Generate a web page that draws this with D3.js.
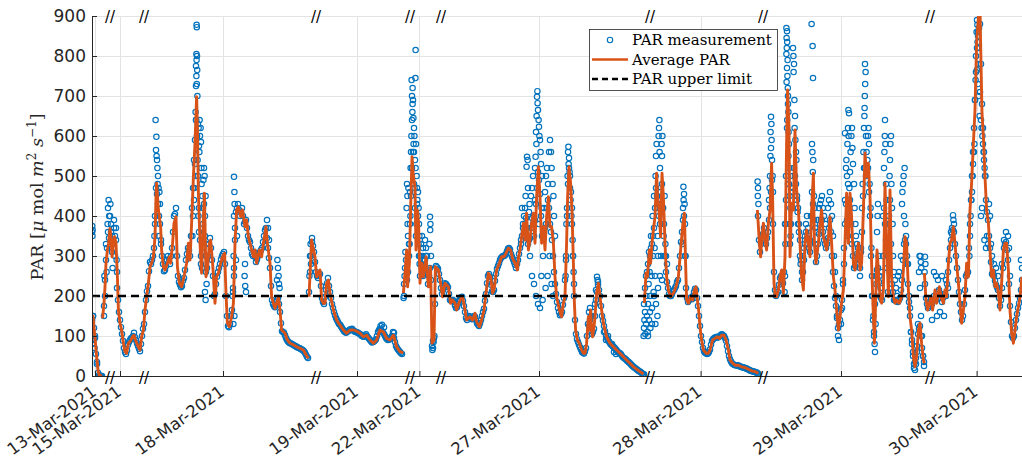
<!DOCTYPE html>
<html><head><meta charset="utf-8">
<script src="https://cdn.jsdelivr.net/npm/d3@7"></script>
<style>body{margin:0;background:#fff}svg{display:block}</style>
</head><body>
<svg id="c" width="1022" height="459"></svg>
<script>
// ---- DATA (x = sample index on the compressed time axis, y = PAR) ----
const xTickLabels = ["13-Mar-2021","15-Mar-2021","18-Mar-2021","19-Mar-2021","22-Mar-2021","27-Mar-2021","28-Mar-2021","29-Mar-2021","30-Mar-2021"];
const xTickPos = [1.5, 14, 65.5, 132.5, 163.7, 223.5, 304.3, 374.5, 442.3];
const breakPos = [9, 26, 112, 159, 174.5, 279, 335.5, 419];
const yTicks = [0,100,200,300,400,500,600,700,800,900];
const parLimit = 200;

// Average PAR, per segment: [index, value]
const avgA = [[0,130],[0.5,150],[1,120],[1.5,95],[2,65],[2.5,40],[3,15],[3.5,3],[5,0]];
const avgB = [[5.3,144],[6,182],[6.5,223],[7,282],[7.7,315],[8.3,332],[9,369],[9.5,348],[10,298],[10.7,332],[11.3,348],[12,332],[12.7,248],[13.2,165],[14,132],[14.8,115],[15.7,82],[16.5,61],[17.3,57],[18.2,82],[19,86],[20.3,98],[21,102],[22,86],[23.2,73],[24,65],[24.8,98],[25.7,115],[26.5,165],[27.3,198],[28.2,232],[29,273],[29.8,282],[30.7,298],[31.5,348],[32,448],[32.3,482],[33.2,415],[33.7,398],[34.3,373],[34.8,315],[35.7,273],[36.5,265],[37.7,282],[38.7,298],[39.3,282],[40.3,332],[41,382],[42,398],[42.7,273],[43.7,232],[44.8,223],[46,248],[47.3,282],[48.2,332],[49,290],[49.8,382],[50.7,498],[51.5,582],[52.3,698],[52.7,623],[53.2,457],[54,332],[54.8,257],[55.7,398],[56.2,457],[57,248],[57.7,265],[58.7,332],[59.3,340],[60.3,282],[61.5,182],[62.3,248],[63.2,257],[64.3,282],[65.3,298],[66.3,307],[67,207],[67.7,132],[68.7,123],[69.8,148],[70.7,182],[71.5,332],[72.3,415],[73.2,423],[74.3,398],[75.3,415],[76.5,373],[77.3,390],[78.2,348],[79,332],[80.7,298],[81.5,315],[82.3,282],[83.7,315],[84.8,298],[85.7,332],[87,373],[87.7,332],[89,282],[89.8,198],[90.7,182],[91.5,169],[92.3,182],[93.2,198],[94,165],[94.8,115],[96.5,107],[97.7,90],[99,82],[100.7,78],[102.3,73],[104,69],[105.7,65],[107,53],[108.2,44]];
const avgC = [[108.5,198],[109.8,340],[111.5,298],[112.3,248],[114,265],[114.8,190],[115.7,182],[116.5,182],[117.3,232],[118.2,240],[119,207],[120.7,165],[122.3,140],[124,127],[125.7,115],[127.3,107],[129,115],[130.7,115],[132.3,112],[134,107],[135.7,98],[137.3,102],[139,90],[140.7,82],[142.3,90],[144,115],[145.7,110],[147.3,94],[149,90],[150.7,102],[152.3,73],[154,61],[155.7,58]];
const avgD = [[155.7,207],[156.5,257],[157.3,315],[157.8,223],[158.7,282],[159.3,415],[160,548],[160.7,498],[161.5,473],[162,315],[162.7,415],[163.3,382],[164,232],[164.8,282],[165.7,248],[167,298],[168.2,223],[169.3,273],[170,82],[171,90],[171.7,273],[173.2,265],[174.3,232],[175.3,198],[176.5,232],[178.2,223],[179.3,182],[180.3,190],[181.5,182],[182.3,165],[184,190],[185.3,198],[186.5,165],[187.3,140],[189,148],[190.3,140],[191.5,157],[192.3,136],[193.7,123],[194.8,140],[196,165],[197,207],[198.2,257],[199.3,248],[200.3,207],[201,215],[202.3,265],[203.7,282],[204.8,298],[206,298],[207,307],[208.2,320],[209.3,315],[210.3,294],[211.5,282],[212.7,265],[213.3,298],[214,315],[214.8,348],[215.7,382],[216.5,340],[217.3,407],[218.2,315],[219,340],[219.8,382],[220.7,407],[221.5,332],[222.3,448],[223.2,523],[224,448],[224.8,332],[225.7,373],[226.5,315],[227.3,398],[228.2,448],[229,373],[229.8,373],[230.7,332],[231.5,248],[232.3,198],[233.7,165],[234.8,148],[235.7,182],[236.5,198],[237.3,332],[237.8,448],[238.5,523],[239.3,482],[240,415],[240.7,282],[241.2,182],[241.8,115],[242.7,90],[243.7,82],[244.8,65],[245.7,57],[246.5,57],[247.3,82],[248.2,148],[248.7,115],[249.3,165],[249.8,115],[250.3,98],[251,123],[251.5,148],[252.3,207],[253.2,232],[254,198],[254.8,165],[255.7,132],[257.3,98],[259,82],[260.7,73],[262.3,65],[264,57],[265.7,48],[267.3,40],[269,32],[270.7,23],[272.3,17],[274,11],[275.7,5]];
const avgE = [[276.2,182],[277,257],[277.7,248],[278.7,315],[279.3,282],[280,332],[280.7,365],[281.5,398],[282.3,507],[282.8,448],[283.5,415],[284.3,348],[285,507],[285.7,448],[286.5,332],[287.3,248],[288.2,215],[289.3,198],[290.7,207],[292,223],[293.2,248],[294.3,315],[295.3,373],[296.2,407],[296.8,282],[297.3,190],[298.2,182],[299.3,198],[300.3,190],[301.2,215],[302,223],[302.7,190],[303.3,165],[304,123],[304.8,90],[305.7,65],[307,57],[308.2,57],[309,65],[310.3,90],[311.5,94],[312.7,98],[313.7,94],[314.8,102],[316,102],[317,90],[318.2,65],[319,40],[320.3,32],[321.5,27],[323.2,27],[324.8,23],[326.5,21],[328.2,17],[329.8,13],[331.5,11],[333.2,7]];
const avgF = [[332.7,415],[333.7,332],[334.3,298],[335,348],[335.7,382],[336.5,340],[337.3,315],[338.2,382],[339,415],[339.8,532],[340.3,448],[341,232],[341.7,198],[342.3,198],[343.2,215],[344,248],[344.8,265],[345.7,207],[346.5,298],[347.3,582],[347.8,715],[348.5,623],[349,298],[349.8,432],[350.7,415],[351.5,615],[352.3,465],[353.2,415],[354,332],[354.8,248],[355.7,215],[356.5,332],[357.3,365],[358.2,332],[359,298],[359.8,415],[360.7,507],[361.2,332],[362,282],[363.2,332],[364,382],[364.8,415],[365.7,348],[366.5,332],[367.3,315],[368.2,348],[369,398],[369.8,332],[370.7,248],[371.5,215],[372.3,165],[373.2,115],[374,148],[374.8,182],[375.7,215],[376.5,332],[377.3,457],[378.2,332],[379,457],[379.8,398],[380.7,282],[381.5,265],[382.3,298],[383.2,332],[384,265],[384.8,282],[385.7,415],[386.5,557],[387.3,498],[388.2,532],[389,448],[389.8,282],[390.7,148],[391.2,82],[391.8,182],[392.5,315],[393.2,265],[394,198],[394.8,182],[395.7,215],[396.5,482],[397.3,332],[398.2,198],[399,465],[399.8,248],[400.7,198],[401.5,182],[402.3,190],[403.7,182],[404.8,198],[405.7,265],[406.5,348],[407.3,332],[408.2,215],[409,148],[409.8,115],[410.7,48],[411.5,23],[412.3,48],[413.2,115],[414,132],[414.8,82],[415.7,40],[416.2,32]];
const avgG = [[416.2,257],[417,190],[417.8,165],[418.7,182],[419.5,198],[420.3,165],[421.5,215],[422.3,182],[423.7,223],[424.5,198],[425.7,182],[426.5,215],[427.3,198],[428.2,282],[429,332],[429.8,340],[430.7,373],[431.5,332],[432.3,282],[433.2,232],[434,182],[434.8,132],[435.7,165],[436.5,198],[437.3,282],[438.2,248],[439,415],[439.8,482],[440.7,582],[441.5,665],[442.3,832],[443,882],[443.5,920],[444,930],[444.3,832],[445,657],[445.7,598],[446.5,498],[447.3,415],[448.2,382],[449,315],[449.8,248],[450.7,265],[451.5,223],[452.3,232],[453.2,207],[454,165],[454.8,232],[455.7,315],[456.5,332],[457.3,332],[458.2,265],[459,165],[459.8,107],[460.7,82],[461.5,115],[462.3,148],[463.2,173],[464,198],[465,248]];

// PAR measurements: regular samples per segment (first index + values, one per index step)
const measAStart = 0,   measA = [100,120,55,8,0,0];
const measBStart = 6,   measB = [175,290,360,400,310,370,340,190,140,105,70,55,78,90,95,108,90,75,62,100,130,190,225,285,290,320,470,430,380,300,262,275,300,280,320,400,420,250,228,225,245,290,320,300,420,540,640,500,340,270,430,260,300,345,290,200,230,260,280,300,310,200,125,130,165,270,410,430,400,420,380,390,350,335,305,310,285,300,310,320,350,370,320,270,190,175,178,195,160,112,108,95,86,82,80,77,74,71,69,66,62,53,45];
const measCStart = 109, measC = [260,335,310,260,245,255,195,180,215,245,210,180,160,145,135,128,120,112,108,112,116,118,112,110,108,105,100,98,104,96,90,84,86,92,110,118,112,105,95,90,92,100,95,75,66,60,55];
const measDStart = 156, measD = [230,290,260,380,520,480,350,400,250,270,255,300,230,270,75,95,275,268,240,205,225,230,222,190,188,185,170,180,192,198,175,145,145,148,142,150,140,128,132,150,168,205,250,248,212,215,255,275,290,298,300,305,318,316,298,285,270,290,320,350,360,395,330,345,395,350,430,510,455,350,360,380,440,380,340,260,205,170,152,160,195,290,480,500,420,200,105,85,72,60,56,70,130,140,105,118,190,228,200,150,125,100,90,82,76,72,66,60,57,50,45,41,36,32,26,22,18,14,11,7,4];
const measEStart = 276, measE = [180,250,280,300,330,370,470,430,380,480,380,260,220,200,205,215,225,240,300,360,400,220,185,195,192,210,215,175,125,85,62,57,56,66,88,94,97,96,100,104,100,88,62,42,32,28,27,27,24,22,21,19,17,14,12,11,9,6];
const measFStart = 333, measF = [400,310,340,370,330,360,420,490,260,200,210,245,240,260,500,680,330,420,520,480,420,340,240,290,360,330,310,460,390,285,330,380,390,340,320,345,390,300,225,175,120,140,190,280,430,350,440,330,270,290,320,270,360,520,500,520,400,200,100,250,270,200,190,420,340,210,440,230,190,188,185,195,240,330,330,230,150,80,30,45,105,125,70,35];
const measGStart = 417, measG = [195,170,185,180,200,190,210,205,185,205,200,260,320,355,360,300,240,180,140,180,250,260,380,500,620,760,860,880,680,560,440,390,320,255,250,228,215,175,220,320,335,290,175,100,100,140,170,195,240];
// second set of samples, half a step later
const measA2Start = 0.5,   measA2 = [150,95,30,2,0];
const measB2Start = 6.5,   measB2 = [240,320,345,360,330,350,260,160,122,88,60,64,85,94,100,97,82,68,80,118,160,212,262,280,300,380,455,400,330,280,265,290,292,300,360,405,300,235,222,238,265,305,315,350,470,590,600,420,300,380,350,270,330,320,250,205,248,270,292,305,280,150,122,150,210,340,420,415,410,400,385,370,340,320,300,298,292,305,315,335,365,345,295,225,180,172,188,180,132,110,102,90,84,81,78,75,72,70,67,64,58,48];
const measC2Start = 109.5, measC2 = [300,325,285,250,252,225,185,198,232,225,195,170,152,140,130,124,116,110,110,114,117,115,111,109,106,102,99,101,100,93,87,85,89,100,115,115,108,100,92,91,96,98,85,70,63,57];
const measD2Start = 156.5, measD2 = [270,240,330,450,560,420,430,300,280,250,290,265,250,240,88,180,272,255,220,215,232,226,205,188,190,176,172,188,196,188,160,140,150,144,146,148,132,125,140,160,188,232,255,228,210,238,268,282,295,300,302,312,320,305,292,278,280,305,340,370,350,370,340,370,380,390,470,490,400,345,370,420,420,360,300,230,185,160,155,178,240,400,520,460,300,140,92,78,66,58,62,100,125,120,110,150,210,215,175,138,112,95,86,79,74,69,63,58,54,47,43,38,34,29,24,20,16,12,9,5];
const measE2Start = 276.5, measE2 = [220,260,310,320,350,420,450,400,440,420,300,235,205,200,212,220,235,270,335,390,300,195,190,196,200,218,195,150,100,70,58,55,60,78,92,96,98,98,103,102,95,75,50,36,30,27,26,25,23,21,20,18,15,13,11,10,8];
const measF2Start = 333.5, measF2 = [340,330,355,345,345,390,460,380,215,205,228,250,232,380,620,480,380,470,500,450,380,290,260,330,345,320,400,430,330,300,355,390,360,330,330,370,360,260,195,145,128,165,240,380,390,400,380,300,275,305,295,310,450,520,510,460,300,140,180,265,235,195,300,380,270,330,330,210,189,186,190,215,290,340,280,185,110,50,35,75,118,100,50];
const measG2Start = 416.5, measG2 = [230,180,175,185,190,195,200,215,195,195,205,230,290,340,365,330,270,210,160,150,215,255,320,440,560,690,820,870,780,620,500,410,350,285,255,238,222,195,190,270,330,315,230,135,95,120,155,182,215];

// scattered PAR measurements away from the average: [index, value]
const outA = [[0,360],[0.1,375],[0.2,350],[0.3,365],[0,140],[0.5,150],[0.4,80],[0.8,90],[1.5,100],[1.3,70],[2.5,35],[3.5,2],[4.5,0]];
const outB = [[6,150],[6.2,250],[6.5,200],[7,330],[7.3,260],[7.8,380],[8,420],[8.3,440],[8.6,400],[9.2,430],[9.5,380],[10,350],[10.3,270],[11,390],[11.5,300],[12,370],[12.3,290],[12.5,220],[31.8,640],[32.2,598],[32,565],[32.3,550],[32.5,540],[32.7,520],[33,500],[33.3,470],[33.7,460],[34,430],[32.8,480],[31.5,400],[31.2,350],[33.5,350],[34.5,340],[52.3,878],[52.4,872],[52.2,805],[52.5,800],[52.3,790],[52,775],[52.6,765],[52.2,750],[52.4,730],[52,725],[52.7,700],[51.8,660],[52.1,640],[53,630],[53.3,620],[53.8,640],[54,600],[54.3,620],[54.5,585],[53.5,575],[53.7,560],[52.8,540],[51.5,530],[51.7,500],[51.2,470],[51,440],[50.5,400],[50.2,350],[53.2,400],[53.5,360],[54.7,520],[54.8,480],[55.2,450],[55.5,420],[55.7,490],[56,520],[56.3,500],[56.8,450],[56.5,400],[57,330],[57.2,300],[57.3,230],[56.5,210],[56.8,190],[55,310],[54.5,280],[71,498],[71.2,460],[71.3,430],[71,400],[71.5,370],[70.8,300],[71,250],[70.5,220],[70.3,200],[71.2,150],[70.7,130],[72,290],[72.5,350],[76.5,280],[76.3,250],[76.6,225],[77,210],[92.7,290],[93,270],[93.3,250],[93.5,230],[92.5,240],[93.8,220],[87.5,390],[88,370],[88.5,340]];
const outC = [[108.5,210],[108.7,250],[109,300],[109.3,330],[110,345],[109.5,280],[144.3,125],[145,128],[146,122],[150.5,110],[151,108]];
const outD = [[157.5,480],[157.7,450],[157.3,420],[157.8,380],[158,350],[158.5,300],[159,460],[159.3,520],[159.5,560],[159.7,600],[160,640],[160.2,660],[160.3,680],[160,700],[160.3,720],[159.8,740],[160.5,690],[160.7,645],[161,620],[161.2,600],[161,560],[161.5,540],[161.8,520],[161.7,745],[161.8,815],[162,580],[162.3,500],[162.5,470],[162.7,440],[163,460],[163.3,420],[163.5,380],[163.7,350],[163.3,330],[164,300],[164.5,330],[165,350],[165.5,320],[166,290],[166.5,340],[167,320],[167.5,300],[168,260],[169,398],[169.2,380],[169.1,365],[168.7,330],[169.5,300],[170.2,65],[170.5,70],[171.2,100],[170.8,85],[156,200],[156.3,250],[156.7,310],[155.8,195],[158.2,470],[159.2,400],[160.8,580],[161.3,470],[162.2,380],[163.8,280],[165.2,300],[158.8,330],
 [222.7,712],[222.5,698],[222.8,682],[223,665],[222.3,650],[223.3,640],[223.5,623],[222,610],[223.7,600],[224,590],[222.2,580],[224.3,560],[221.8,548],[224.5,530],[221.5,520],[225,500],[220.5,500],[220,470],[219.5,450],[218.8,430],[218.5,410],[217.8,540],[217.5,548],[217.3,523],[218,470],[216.8,450],[216.5,420],[216,400],[215.5,380],[215,420],[214.5,330],[219,300],[220,250],[221,230],[222,200],[223,180],[224.7,250],[225.5,300],[226,420],[226.5,460],[227,500],[227.5,520],[228,480],[228.5,560],[229,590],[229.5,560],[229.8,520],[230.3,480],[230.7,450],[231,400],[231.5,350],[228.8,300],[227.8,250],[226.8,220],[225.3,190],[224,170],[229.8,230],[230.5,200],[221.5,440],[220.8,400],[223.5,380],[224.8,420],[225.8,360],
 [238.2,573],[238,560],[238.5,545],[238.3,530],[237.8,500],[238.8,510],[239,470],[237.5,420],[239.3,440],[239.7,400],[240,380],[240.3,340],[240.5,300],[240.8,260],[241,230],[237.2,380],[237,300],[236.8,250],[252.5,248],[252.8,240],[253,235],[252,215],[251.5,180],[250.5,160],[249,170],[248.5,160],[249.5,150],[256,110],[257,90],[258,100],[260,80],[262,55],[261,60]];
const outE = [[275.8,100],[276,120],[276.2,140],[276.5,160],[276.7,105],[277,130],[277.2,200],[277.5,150],[277.8,110],[278,180],[278.3,230],[278.5,140],[278.8,260],[279,200],[279.2,120],[279.5,350],[279.8,250],[280,170],[280.3,400],[280.5,300],[280.8,210],[281,450],[281.3,320],[281.5,250],[281.8,500],[282,550],[282.3,580],[282.5,420],[282.8,350],[283,300],[283.3,600],[283.5,620],[283.7,640],[283.8,560],[284,520],[284.3,460],[284.5,300],[284.8,580],[285,550],[285.2,600],[285.5,420],[285.8,350],[286,300],[286.3,450],[286.7,330],[287,300],[287.5,280],[281,200],[282,180],[283,220],[284,250],[285,240],[280,130],[279,160],[278,100],[282.7,150],[281.7,130],[295.7,473],[296,455],[295.8,440],[296.3,430],[295.5,420],[296.5,380],[295.2,330],[296.8,300]];
const outF = [[332.8,486],[333,470],[332.9,450],[333.2,430],[339.5,648],[339.7,630],[339.3,610],[339.8,590],[339.5,570],[339.2,550],[340,540],[339,500],[338.8,470],[338.5,440],[340.3,500],[340.5,460],
 [347.2,870],[347.5,862],[347.3,845],[347.6,835],[347.4,820],[347.2,805],[347.8,790],[347.5,770],[347.7,750],[347.3,735],[347.9,720],[348,700],[348.2,660],[347.6,640],[348.3,610],[348.5,580],[348.2,550],[348.7,520],[348,480],[348.8,450],[349.2,420],[349,380],[349.3,350],[347,440],[346.8,380],[346.7,330],[346.5,250],[346.3,210],[350.5,820],[350.7,800],[351,780],[350.8,760],[351.2,690],[351.5,650],[351.3,620],[351.7,590],[352,560],[352.2,540],[350.3,500],[350,460],[352.5,440],[352.8,410],[353,380],[353.5,360],[354,300],[354.3,280],[355,260],[355.5,300],[356,320],[356.5,350],[357,380],[357.5,400],[358,370],[358.5,350],[359,340],[359.8,880],[360.3,825],[360.5,745],[360,580],[360.2,560],[360.6,540],[360.4,510],[361,450],[361.3,420],[361.6,370],[362.3,360],[363,390],[363.5,420],[364,430],[364.5,440],[365,450],[365.5,420],[366,400],[366.8,380],[368,420],[368.5,440],[369,460],[369.5,430],[370,400],[370.5,350],[371,300],[371.5,260],[372,200],[372.5,150],[373,100],[373.5,90],[374.5,130],[375,170],[375.5,230],[376,320],[376.5,440],[377,520],[377.2,540],[377.5,500],[378,480],[378.3,440],[378.7,470],[379,510],[379.3,560],[379.7,600],[380,620],[380.2,570],[380.5,530],[381,480],[381.3,420],[381.7,380],[382,350],[382.5,330],[383,300],[383.5,280],[384,250],[384.5,320],[385,420],[385.3,480],[385.7,560],[386,620],[386.2,650],[386.4,700],[386.6,730],[386.8,760],[386.5,780],[386.3,670],[387,600],[387.3,560],[387.7,540],[388,600],[388.3,620],[388.5,580],[388.8,480],[389.3,420],[389.7,320],[390,250],[390.3,200],[390.7,150],[391,110],[391.3,80],[391.5,60],[391.8,130],[392.2,230],[392.5,360],[392.8,400],[393,430],[393.3,300],[393.7,250],[394.3,220],[395,260],[395.5,400],[396,520],[396.2,560],[396.4,600],[396.5,640],[396.7,580],[397,480],[397.3,440],[397.7,380],[398,300],[398.5,400],[398.8,500],[399,540],[399.2,580],[399.5,600],[399.7,480],[400,420],[400.3,380],[400.5,300],[401,260],[401.5,240],[402,220],[402.5,200],[403,250],[403.5,260],[404.5,300],[405,430],[405.2,460],[405.5,480],[405.8,500],[406.3,520],[406,400],[406.7,380],[407,350],[407.5,300],[408,280],[408.5,200],[409,170],[409.5,110],[410,90],[410.5,60],[411,20],[411.5,15],[412,30],[412.5,60],[413,130],[413.5,260],[413.8,300],[414,220],[414.5,150],[415,100],[415.5,50],[416,25],[378.2,665],[378.5,657],[378.3,600],[378,620],[377.7,580],[376.5,607],[414.2,300],[414.4,285],[414.6,270]];
const outG = [[416.5,298],[416.7,280],[416.3,260],[421,260],[422,250],[423,240],[424,160],[422.5,150],[420,140],[425,250],[426,150],[427,240],[428,220],[430.5,402],[430.7,390],[431,380],[430,370],[429.5,360],[442.5,890],[442.7,878],[442.3,860],[443,850],[442.8,835],[443.2,820],[442,800],[443.5,780],[442.5,765],[441.8,740],[443,730],[443.3,700],[441.5,690],[444,710],[443.8,650],[444.5,640],[444.8,620],[445.2,600],[445.5,580],[445.8,560],[446,540],[446.3,520],[446.7,500],[441.2,580],[441,560],[440.5,530],[440.3,500],[440,460],[439.7,440],[439.3,400],[439,350],[438.7,300],[446.2,340],[447,320],[447.5,350],[448,330],[445,420],[444.5,400],[448.5,430],[449,400],[449.5,330],[450,300],[451,280],[452,270],[453,250],[450.5,260],[455,280],[456,340],[457,360],[458,350],[458.5,320],[459,250],[464.5,290],[465,270]];

// ---- DRAWING ----
const svg = d3.select("#c");
const L = 92, R = 1022, T = 16, B = 376;
const x = d3.scaleLinear().domain([0, 465]).range([L, R]);
const y = d3.scaleLinear().domain([0, 900]).range([B, T]);
const ink = "#262626", blue = "#0072BD", orange = "#D95319";

svg.append("defs").append("clipPath").attr("id","clip")
  .append("rect").attr("x", L).attr("y", T).attr("width", R - L).attr("height", B - T);

// grid
const grid = svg.append("g").attr("stroke", "#e3e3e3").attr("stroke-width", 1);
grid.selectAll("line.h").data(yTicks.slice(1)).join("line")
  .attr("x1", L).attr("x2", R).attr("y1", d => y(d) + 0.5).attr("y2", d => y(d) + 0.5);
grid.selectAll("line.v").data(xTickPos).join("line")
  .attr("x1", d => Math.round(x(d)) + 0.5).attr("x2", d => Math.round(x(d)) + 0.5).attr("y1", T).attr("y2", B);

const plot = svg.append("g").attr("clip-path", "url(#clip)");

// measurements
const meas = [];
[[measAStart, measA],[measBStart, measB],[measCStart, measC],[measDStart, measD],[measEStart, measE],[measFStart, measF],[measGStart, measG],
 [measA2Start, measA2],[measB2Start, measB2],[measC2Start, measC2],[measD2Start, measD2],[measE2Start, measE2],[measF2Start, measF2],[measG2Start, measG2]]
  .forEach(([s, arr]) => arr.forEach((v, i) => meas.push([s + i, v])));
[outA, outB, outC, outD, outE, outF, outG].forEach(a => a.forEach(p => meas.push(p)));
plot.append("g").selectAll("circle").data(meas).join("circle")
  .attr("cx", d => x(d[0])).attr("cy", d => y(d[1])).attr("r", 2.7)
  .attr("fill", "none").attr("stroke", blue).attr("stroke-width", 1.15);

// average line
const line = d3.line().x(d => x(d[0])).y(d => y(d[1]));
plot.append("g").selectAll("path").data([avgA, avgB, avgC, avgD, avgE, avgF, avgG]).join("path")
  .attr("d", line).attr("fill", "none").attr("stroke", orange).attr("stroke-width", 2.9)
  .attr("stroke-linejoin", "round");

// limit
plot.append("line").attr("x1", L).attr("x2", R).attr("y1", y(parLimit)).attr("y2", y(parLimit))
  .attr("stroke", "#000").attr("stroke-width", 2.4).attr("stroke-dasharray", "8,5");

// axes
const yAxis = d3.axisLeft(y).tickValues(yTicks).tickSize(-5).tickPadding(6);
const gy = svg.append("g").attr("transform", `translate(${L},0)`).call(yAxis);
gy.select(".domain").attr("stroke", ink);
gy.selectAll(".tick line").attr("stroke", ink);
gy.selectAll(".tick text").attr("fill", ink).style("font-family", "DejaVu Sans").style("font-size", "17px");

const xAxis = d3.axisBottom(x).tickValues(xTickPos).tickFormat((d, i) => xTickLabels[i]).tickSize(-5).tickSizeOuter(0);
const gx = svg.append("g").attr("transform", `translate(0,${B})`).call(xAxis);
gx.select(".domain").attr("stroke", ink);
gx.selectAll(".tick line").attr("stroke", ink);
gx.selectAll(".tick text").attr("fill", ink).style("font-family", "DejaVu Sans").style("font-size", "16.5px")
  .attr("text-anchor", "end").attr("dy", null).attr("y", 0)
  .attr("transform", "translate(2,18) rotate(-36)");

// break markers
const brk = svg.append("g").style("font-family", "DejaVu Sans").style("font-size", "15px")
  .attr("fill", "#000").attr("text-anchor", "middle");
brk.selectAll("text.t").data(breakPos).join("text").attr("class", "t")
  .attr("x", d => x(d)).attr("y", T + 6).text("//");
brk.selectAll("text.b").data(breakPos).join("text").attr("class", "b")
  .attr("x", d => x(d)).attr("y", B + 7).text("//");

// y label
const yl = svg.append("text").attr("transform", "translate(43,197) rotate(-90)")
  .attr("text-anchor", "middle").attr("fill", ink)
  .style("font-family", "DejaVu Serif").style("font-size", "17.5px");
yl.append("tspan").text("PAR [");
yl.append("tspan").style("font-style", "italic").text("μ");
yl.append("tspan").text(" mol ");
yl.append("tspan").style("font-style", "italic").text("m");
yl.append("tspan").attr("dy", -7).style("font-size", "12px").text("2");
yl.append("tspan").attr("dy", 7).text(" ");
yl.append("tspan").style("font-style", "italic").text("s");
yl.append("tspan").attr("dy", -7).style("font-size", "12px").text("−1");
yl.append("tspan").attr("dy", 7).text("]");

// legend
const lg = svg.append("g");
lg.append("rect").attr("x", 589.5).attr("y", 29.5).attr("width", 188).attr("height", 61)
  .attr("fill", "#fff").attr("stroke", ink).attr("stroke-width", 0.8);
const rows = [40, 59.5, 79];
lg.append("circle").attr("cx", 610).attr("cy", rows[0]).attr("r", 2.7).attr("fill", "none").attr("stroke", blue).attr("stroke-width", 1.1);
lg.append("line").attr("x1", 592).attr("x2", 628).attr("y1", rows[1]).attr("y2", rows[1]).attr("stroke", orange).attr("stroke-width", 2.7);
lg.append("line").attr("x1", 592).attr("x2", 628).attr("y1", rows[2]).attr("y2", rows[2]).attr("stroke", "#000").attr("stroke-width", 2.4).attr("stroke-dasharray", "6,4");
const legendLabels = ["PAR measurement", "Average PAR", "PAR upper limit"];
lg.selectAll("text").data(legendLabels).join("text")
  .attr("x", 632).attr("y", (d, i) => rows[i] + 5).text(d => d).attr("fill", "#000")
  .style("font-family", "DejaVu Serif").style("font-size", "15px");
</script>
</body></html>
